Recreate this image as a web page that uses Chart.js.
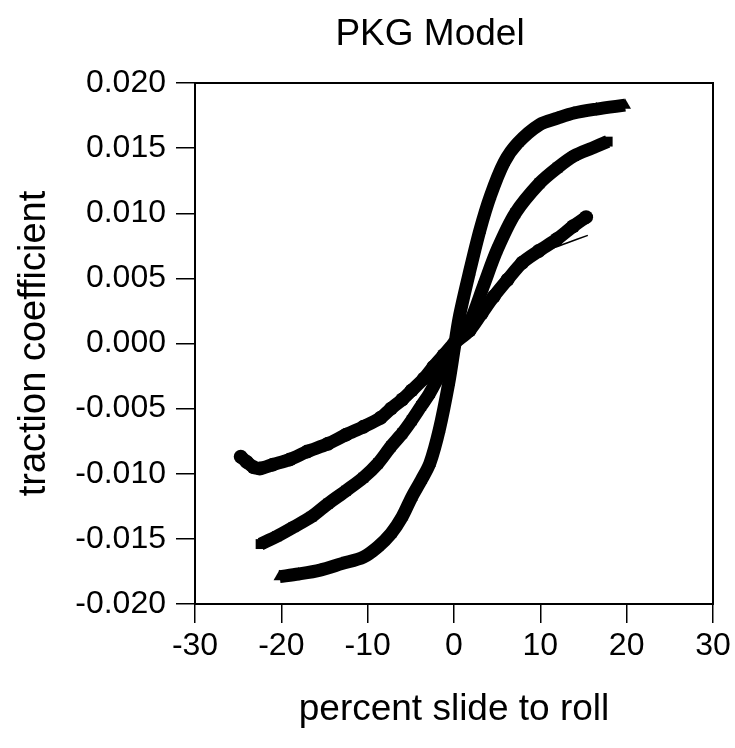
<!DOCTYPE html>
<html>
<head>
<meta charset="utf-8">
<script src="https://cdn.jsdelivr.net/npm/chart.js@4.4.1/dist/chart.umd.min.js"></script>
<style>
  html, body { margin: 0; padding: 0; background: #fff; }
</style>
</head>
<body>
<canvas id="pkgChart" width="735" height="748"></canvas>
<script>
// measured points (percent slide to roll, traction coefficient)
const circleX = [-24.7, -24.0, -23.2, -22.5, -21.0, -19.0, -17.0, -14.6, -12.5, -10.5, -8.5, -7.3, -6.0, -4.9, -3.5, -2.4, -1.2, 0, 1.8, 3.2, 4.6, 6.2, 7.9, 9.8, 11.9, 13.8, 15.3];
const circleY = [-0.0087, -0.0091, -0.0095, -0.0096, -0.0093, -0.0089, -0.0083, -0.0077, -0.0070, -0.0064, -0.0057, -0.0050, -0.0043, -0.0036, -0.0027, -0.0018, -0.0009, 0.0000, 0.0010, 0.0023, 0.0036, 0.0049, 0.0062, 0.0071, 0.0080, 0.0090, 0.0097];

const squareX = [-22.4, -20.5, -18.6, -16.5, -14.6, -12.5, -10.5, -8.8, -7.3, -6.0, -4.9, -3.8, -2.8, -1.2, 0, 1.8, 3.4, 5.0, 7.1, 9.9, 12.0, 13.9, 16.0, 17.8];
const squareY = [-0.0154, -0.0148, -0.0141, -0.0133, -0.0123, -0.0113, -0.0103, -0.0092, -0.0079, -0.0069, -0.0059, -0.0048, -0.0038, -0.0018, -0.0001, 0.0016, 0.0044, 0.0072, 0.0100, 0.0123, 0.0135, 0.0144, 0.0150, 0.0155];

const triangleX = [-20.2, -18.0, -15.5, -13.0, -10.5, -8.8, -7.3, -6.0, -4.9, -3.8, -2.8, -1.7, -0.6, 0, 0.6, 1.8, 3.0, 4.2, 5.8, 7.4, 9.9, 12.0, 13.9, 16.5, 19.8];
const triangleY = [-0.0179, -0.0177, -0.0174, -0.0169, -0.0164, -0.0156, -0.0146, -0.0133, -0.0118, -0.0105, -0.0092, -0.0066, -0.0030, -0.0005, 0.0020, 0.0055, 0.0087, 0.0113, 0.0139, 0.0154, 0.0168, 0.0173, 0.0177, 0.0180, 0.0183];

// PKG model curves (thin lines)
const modelCircleX = [-22, -18, -14, -11, -8, -5, -2, 0, 3, 6, 9, 11, 13, 15.5];
const modelCircleY = [-0.0098, -0.0088, -0.0077, -0.0068, -0.0055, -0.0038, -0.0015, 0.0000, 0.0023, 0.0048, 0.0066, 0.0072, 0.0077, 0.0083];
const modelSquareX = [-22, -16, -11, -7, -3, 0, 3, 7, 12, 17.5];
const modelSquareY = [-0.0153, -0.0131, -0.0105, -0.0077, -0.0040, 0.0000, 0.0038, 0.0098, 0.0135, 0.0154];
const modelTriangleX = [-20, -14, -9, -6, -3, 0, 3, 6, 10, 15, 19.5];
const modelTriangleY = [-0.0179, -0.0171, -0.0157, -0.0133, -0.0095, -0.0005, 0.0087, 0.0141, 0.0168, 0.0178, 0.0182];

const xTicks = [-30, -20, -10, 0, 10, 20, 30];
const yTicks = [-0.020, -0.015, -0.010, -0.005, 0.000, 0.005, 0.010, 0.015, 0.020];

const FONT = "'Liberation Sans', Arial, Helvetica, sans-serif";

function toPoints(xs, ys) {
  return xs.map((x, i) => ({ x: x, y: ys[i] }));
}

function bandSet(label, xs, ys, style) {
  return {
    label: label,
    data: toPoints(xs, ys),
    showLine: true,
    borderColor: "#000",
    borderWidth: 13,
    tension: 0.3,
    pointStyle: style,
    pointRadius: 7,
    pointBackgroundColor: "#000",
    pointBorderColor: "#000",
    pointBorderWidth: 0,
  };
}

function modelSet(label, xs, ys) {
  return {
    label: label,
    data: toPoints(xs, ys),
    showLine: true,
    borderColor: "#000",
    borderWidth: 1.5,
    tension: 0.3,
    pointRadius: 0,
  };
}

// box around the plot + chart title
const framePlugin = {
  id: "frame",
  afterDraw(chart) {
    const a = chart.chartArea;
    const ctx = chart.ctx;
    ctx.save();
    ctx.strokeStyle = "#000";
    ctx.lineWidth = 2;
    ctx.strokeRect(a.left, a.top, a.right - a.left, a.bottom - a.top);
    ctx.font = "37px " + FONT;
    ctx.fillStyle = "#000";
    ctx.textAlign = "center";
    ctx.textBaseline = "middle";
    ctx.fillText("PKG Model", 430, 35);
    ctx.restore();
  },
};

const ctx = document.getElementById("pkgChart").getContext("2d");
const pkgChart = new Chart(ctx, {
  type: "scatter",
  data: {
    datasets: [
      bandSet("circles", circleX, circleY, "circle"),
      bandSet("squares", squareX, squareY, "rect"),
      bandSet("triangles", triangleX, triangleY, "triangle"),
      modelSet("model circles", modelCircleX, modelCircleY),
      modelSet("model squares", modelSquareX, modelSquareY),
      modelSet("model triangles", modelTriangleX, modelTriangleY),
    ],
  },
  options: {
    responsive: false,
    animation: false,
    layout: { padding: { top: 83, right: 22, left: 0, bottom: 0 } },
    plugins: {
      legend: { display: false },
      tooltip: { enabled: false },
      title: { display: false },
    },
    scales: {
      x: {
        type: "linear",
        min: -30,
        max: 30,
        afterBuildTicks: (s) => { s.ticks = xTicks.map((v) => ({ value: v })); },
        afterFit: (s) => { s.height = 144; },
        grid: { drawOnChartArea: false, drawTicks: true, tickLength: 19, color: "#000", lineWidth: 1.5 },
        border: { display: true, color: "#000", width: 2 },
        ticks: { color: "#000", padding: 4, font: { family: FONT, size: 32 }, maxRotation: 0 },
        title: { display: true, text: "percent slide to roll", color: "#000", font: { family: FONT, size: 37 }, padding: { top: 0, bottom: 16 } },
      },
      y: {
        type: "linear",
        min: -0.02,
        max: 0.02,
        afterBuildTicks: (s) => { s.ticks = yTicks.map((v) => ({ value: v })); },
        afterFit: (s) => { s.width = 195; },
        grid: { drawOnChartArea: false, drawTicks: true, tickLength: 19, color: "#000", lineWidth: 1.5 },
        border: { display: true, color: "#000", width: 2 },
        ticks: {
          color: "#000",
          padding: 10,
          font: { family: FONT, size: 32 },
          callback: (v) => (Math.abs(v) < 1e-9 ? 0 : v).toFixed(3),
        },
        title: { display: true, text: "traction coefficient", color: "#000", font: { family: FONT, size: 38 }, padding: { top: 12, bottom: 0 } },
      },
    },
  },
  plugins: [framePlugin],
});
</script>
</body>
</html>
